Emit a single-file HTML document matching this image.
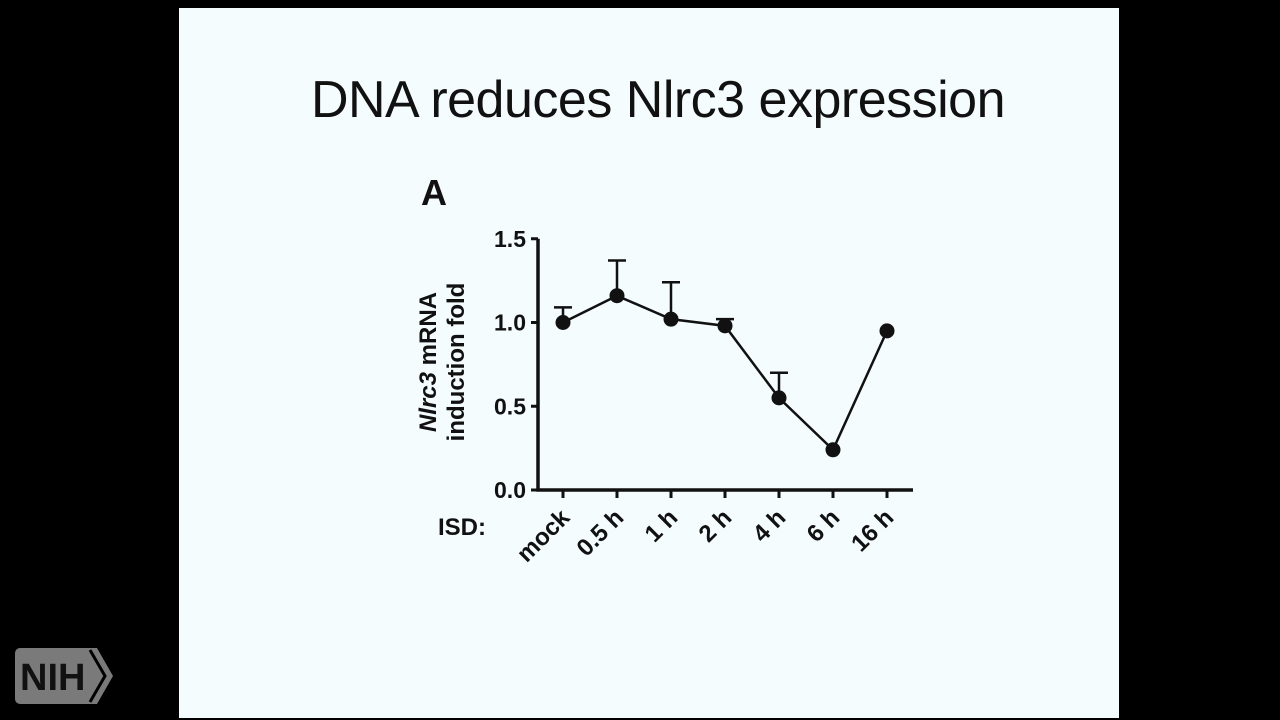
<!DOCTYPE html>
<html><head><meta charset="utf-8"><style>
body{margin:0;width:1280px;height:720px;background:#000;overflow:hidden;font-family:"Liberation Sans",sans-serif}
#slide{position:absolute;left:179px;top:8px;width:940px;height:710px;background:#f4fcfd}
#title{position:absolute;left:179px;top:70px;width:958px;text-align:center;font-size:52px;color:#111;letter-spacing:-0.5px}
</style></head><body>
<div id="slide"></div>
<div id="title">DNA reduces Nlrc3 expression</div>
<svg width="1280" height="720" style="position:absolute;left:0;top:0">
<text x="421" y="205" font-size="36" font-weight="bold" fill="#111">A</text>
<g id="plot"></g>
<g>
<rect x="15" y="648" width="82" height="56" rx="5" fill="#7a7a7a"/>
<polygon points="85,648 97,648 113,676 97,704 85,704" fill="#7a7a7a"/>
<polyline points="90,650 105,676 90,702" fill="none" stroke="#000" stroke-width="3"/>
<text x="20" y="690" font-size="38" font-weight="bold" fill="#111">NIH</text>
</g>
</svg>
<script>
const categories=["mock","0.5 h","1 h","2 h","4 h","6 h","16 h"];
const values=[1.0,1.16,1.02,0.98,0.55,0.24,0.95];
const errTop=[1.09,1.37,1.24,1.02,0.70,null,null];
const yTicks=[0,0.5,1.0,1.5];
const yTickLabels=["0.0","0.5","1.0","1.5"];
const NS="http://www.w3.org/2000/svg";
const g=document.getElementById('plot');
const x0=538,x1=913,yb=490,pxPerUnit=167.5,firstX=563,step=54;
const X=i=>firstX+i*step, Y=v=>yb-v*pxPerUnit;
function el(t,a,p){const e=document.createElementNS(NS,t);for(const k in a)e.setAttribute(k,a[k]);(p||g).appendChild(e);return e;}
let ax=el('path',{d:`M${x0},${Y(1.5)}V${yb}H${x1}`,stroke:'#111','stroke-width':3.5,fill:'none'});


yTicks.forEach((t,i)=>{
  let tk=el('line',{x1:x0-7,x2:x0,y1:Y(t),y2:Y(t),stroke:'#111','stroke-width':3});
  
  
  let tl=el('text',{x:x0-12,y:Y(t)+8,'text-anchor':'end','font-size':23,'font-weight':'bold',fill:'#111'});
  tl.textContent=yTickLabels[i];
  
  
});
categories.forEach((c,i)=>{
  let tk=el('line',{x1:X(i),x2:X(i),y1:yb,y2:yb+8,stroke:'#111','stroke-width':3});
  
  
  let tl=el('text',{x:X(i)+8,y:yb+29,'text-anchor':'end','font-size':24,'font-weight':'bold',fill:'#111',transform:`rotate(-45 ${X(i)+8} ${yb+29})`});
  tl.textContent=c;
  
  
});
let isd=el('text',{x:438,y:535,'font-size':24,'font-weight':'bold',fill:'#111'});isd.textContent='ISD:';


let yt=el('text',{transform:'translate(436,362) rotate(-90)','text-anchor':'middle','font-size':24,'font-weight':'bold',fill:'#111'});
yt.innerHTML='<tspan font-style="italic">Nlrc3</tspan> mRNA';


let yt2=el('text',{transform:'translate(464,362) rotate(-90)','text-anchor':'middle','font-size':24,'font-weight':'bold',fill:'#111'});
yt2.textContent='induction fold';


errTop.forEach((e,i)=>{
  if(e==null)return;
  let eb=el('path',{d:`M${X(i)},${Y(values[i])}V${Y(e)}M${X(i)-9},${Y(e)}H${X(i)+9}`,stroke:'#111','stroke-width':2.5,fill:'none'});
  
  
});
let ln=el('polyline',{points:values.map((v,i)=>X(i)+','+Y(v)).join(' '),stroke:'#111','stroke-width':2.5,fill:'none'});


values.forEach((v,i)=>{
  let p=el('circle',{cx:X(i),cy:Y(v),r:7.5,fill:'#111'});
  
  
});
</script>
</body></html>
